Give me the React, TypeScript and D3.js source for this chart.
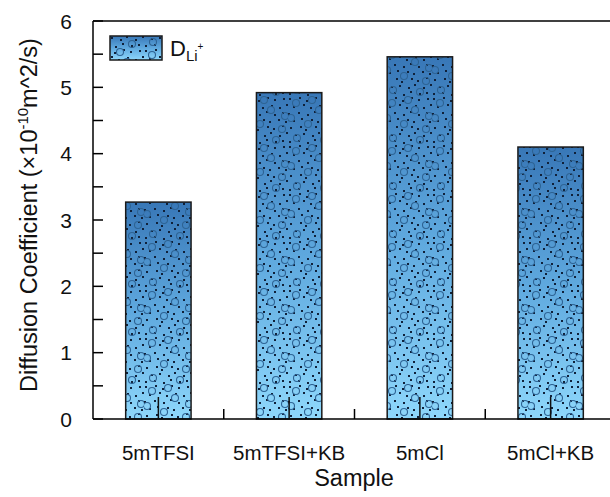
import React from "react";
import * as d3 from "d3";

const categories = ["5mTFSI", "5mTFSI+KB", "5mCl", "5mCl+KB"];
const diffusion = [3.27, 4.92, 5.46, 4.1];
const yTicks = [0, 1, 2, 3, 4, 5, 6];
const yMinorTicks = [0.5, 1.5, 2.5, 3.5, 4.5, 5.5];

// texture tile (style only)
const dots: [number, number][] = [
  [2, 3], [12, 2], [19, 5], [28, 2], [35, 4], [44, 3],
  [6, 11], [16, 9], [23, 12], [32, 10], [40, 12], [47, 9],
  [1, 18], [11, 17], [20, 19], [27, 16], [35, 19], [43, 17],
  [6, 25], [14, 23], [24, 24], [30, 26], [39, 24], [46, 26],
  [3, 32], [13, 31], [18, 34], [28, 31], [34, 33], [43, 30],
  [8, 39], [16, 38], [25, 40], [31, 37], [40, 40], [47, 37],
  [2, 46], [11, 45], [20, 47], [27, 44], [36, 46], [43, 45],
];
const circles: [number, number][] = [
  [8, 7], [31, 14], [20, 28], [42, 33], [9, 42], [36, 44], [24, 4], [3, 22], [45, 20],
];

const W = 610;
const H = 497;
const left = 93;
const top = 21;
const bottom = 419;

export default function App() {
  const x = d3.scaleBand<string>().domain(categories).range([left, 616]).padding(0);
  const y = d3.scaleLinear().domain([0, 6]).range([bottom, top]);
  const step = x.step();
  const bw = step * 0.5;
  const font = "Arial, 'Liberation Sans', Helvetica, sans-serif";

  return (
    <svg
      width={W}
      height={H}
      style={{ position: "absolute", left: 0, top: 0, background: "#fff" }}
      fontFamily={font}
    >
      <defs>
        <linearGradient id="grad" x1="0" y1="0" x2="0" y2="1">
          <stop offset="0" stopColor="#3877b7" />
          <stop offset="0.5" stopColor="#5ea8de" />
          <stop offset="1" stopColor="#8ed7fb" />
        </linearGradient>
        <pattern id="tex" patternUnits="userSpaceOnUse" width={48} height={48}>
          {dots.map(([px, py], i) => (
            <rect key={i} x={px - 1} y={py - 1} width={2} height={2} fill="#10213a" />
          ))}
          {circles.map(([cx, cy], i) => (
            <circle key={"c" + i} cx={cx} cy={cy} r={3.5} fill="none" stroke="#2d6394" strokeWidth={1.1} />
          ))}
        </pattern>
      </defs>

      {/* bars */}
      {categories.map((c, i) => {
        const bx = (x(c) as number) + step * 0.25;
        const by = y(diffusion[i]);
        const bh = bottom - by;
        return (
          <g key={c}>
            <rect x={bx} y={by} width={bw} height={bh} fill="url(#grad)" />
            <rect x={bx} y={by} width={bw} height={bh} fill="url(#tex)" />
            <rect x={bx} y={by} width={bw} height={bh} fill="none" stroke="#1a1a1a" strokeWidth={1.5} />
          </g>
        );
      })}

      {/* axes frame */}
      <line x1={left} y1={top} x2={W} y2={top} stroke="#000" strokeWidth={1.5} />
      <line x1={left} y1={top} x2={left} y2={bottom} stroke="#000" strokeWidth={1.5} />
      <line x1={left} y1={bottom} x2={W} y2={bottom} stroke="#000" strokeWidth={1.5} />

      {/* y ticks */}
      {yTicks.map((t) => (
        <g key={"y" + t}>
          <line x1={left} x2={left + 10} y1={y(t)} y2={y(t)} stroke="#000" strokeWidth={1.5} />
          <text x={72} y={y(t) + 7.5} fontSize={21} textAnchor="end" fill="#111">
            {t}
          </text>
        </g>
      ))}
      {yMinorTicks.map((t) => (
        <line key={"ym" + t} x1={left} x2={left + 10} y1={y(t)} y2={y(t)} stroke="#000" strokeWidth={1.5} />
      ))}

      {/* x ticks */}
      {categories.map((c, i) => {
        const cx = (x(c) as number) + step / 2;
        return (
          <g key={"x" + c}>
            <line x1={cx} x2={cx} y1={bottom} y2={bottom - 22} stroke="#111" strokeWidth={1.5} />
            {i > 0 && (
              <line x1={x(c) as number} x2={x(c) as number} y1={bottom} y2={bottom - 10} stroke="#000" strokeWidth={1.5} />
            )}
            <text x={cx} y={460} fontSize={20.5} textAnchor="middle" fill="#111">
              {c}
            </text>
          </g>
        );
      })}

      {/* axis titles */}
      <text x={354} y={486} fontSize={23.5} textAnchor="middle" fill="#111">
        Sample
      </text>
      <text
        transform="translate(37,215) rotate(-90)"
        fontSize={23.5}
        textAnchor="middle"
        fill="#111"
      >
        Diffusion Coefficient (×10
        <tspan dy={-9} fontSize={15}>-10</tspan>
        <tspan dy={9}>m^2/s)</tspan>
      </text>

      {/* legend */}
      <rect x={110} y={36} width={52} height={24} fill="url(#grad)" />
      <rect x={110} y={36} width={52} height={24} fill="url(#tex)" />
      <rect x={110} y={36} width={52} height={24} fill="none" stroke="#1a1a1a" strokeWidth={1.5} />
      <text x={170} y={56} fontSize={22} fill="#111">
        D
        <tspan dy={5} fontSize={15}>Li</tspan>
        <tspan dy={-11} fontSize={10}>+</tspan>
      </text>
    </svg>
  );
}
